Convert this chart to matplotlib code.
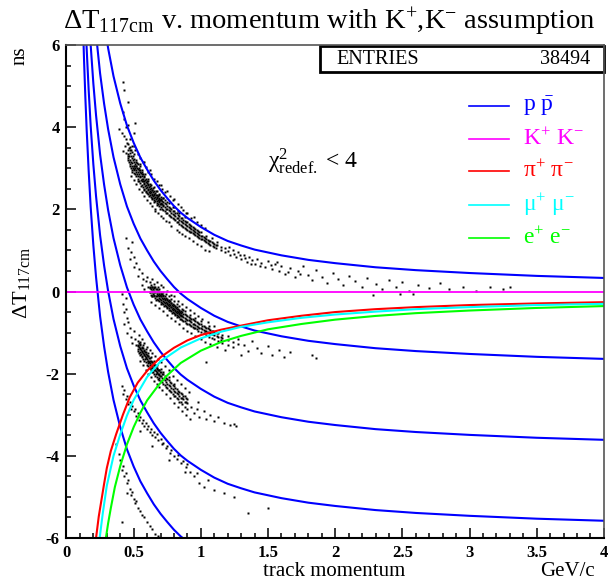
import numpy as np
import matplotlib.pyplot as plt
from matplotlib.patches import Rectangle
from matplotlib.ticker import MultipleLocator

plt.rcParams["font.family"] = "Liberation Serif"
plt.rcParams["mathtext.fontset"] = "custom"
plt.rcParams["mathtext.rm"] = "Liberation Serif"
plt.rcParams["mathtext.it"] = "Liberation Serif:italic"
plt.rcParams["mathtext.bf"] = "Liberation Serif:bold"
plt.rcParams["axes.unicode_minus"] = False

# proton curve (blue, top one)
p_mom = [0.11, 0.12, 0.13, 0.14, 0.15, 0.165, 0.18, 0.2, 0.22, 0.25, 0.28, 0.31,
         0.35, 0.4, 0.45, 0.5, 0.55, 0.6, 0.65, 0.7, 0.75, 0.8, 0.85, 0.9, 1.0,
         1.1, 1.2, 1.3, 1.4, 1.6, 1.8, 2.0, 2.3, 2.6, 3.0, 3.5, 4.0]
dt_proton = [15.91, 14.67, 13.58, 12.64, 11.83, 10.82, 9.94, 9.00, 8.23, 7.28,
             6.54, 5.92, 5.24, 4.58, 4.04, 3.62, 3.26, 2.97, 2.70, 2.47, 2.27,
             2.08, 1.92, 1.79, 1.57, 1.38, 1.23, 1.12, 1.02, 0.88, 0.77, 0.69,
             0.59, 0.52, 0.45, 0.38, 0.33]
# the other blue curves: same shape, one bunch lower each
bunch_shift = [0.0, -1.97, -3.94, -5.91, -7.88]

pion_p = [0.21, 0.22, 0.24, 0.26, 0.28, 0.30, 0.33, 0.37, 0.42, 0.47, 0.53, 0.6,
          0.7, 0.8, 0.9, 1.0, 1.15, 1.3, 1.5, 1.75, 2.0, 2.3, 2.6, 3.0, 3.5, 4.0]
dt_pion = [-6.3, -6.0, -5.48, -5.08, -4.68, -4.30, -3.88, -3.47, -3.00, -2.58,
           -2.22, -1.93, -1.60, -1.37, -1.19, -1.06, -0.93, -0.83, -0.70, -0.59,
           -0.50, -0.43, -0.38, -0.33, -0.29, -0.26]

muon_p = [0.24, 0.25, 0.27, 0.30, 0.35, 0.40, 0.45, 0.50, 0.60, 0.70, 0.85, 1.0,
          1.15, 1.3, 1.5, 1.75, 2.0, 2.3, 2.6, 3.0, 3.5, 4.0]
dt_muon = [-6.2, -5.92, -5.40, -4.73, -4.0, -3.48, -3.02, -2.64, -2.08, -1.70,
           -1.365, -1.14, -0.98, -0.86, -0.75, -0.64, -0.56, -0.49, -0.43, -0.38,
           -0.33, -0.30]

elec_p = [0.28, 0.29, 0.31, 0.33, 0.36, 0.40, 0.45, 0.50, 0.55, 0.60, 0.68, 0.75,
          0.85, 1.0, 1.15, 1.3, 1.5, 1.75, 2.0, 2.3, 2.6, 3.0, 3.5, 4.0]
dt_elec = [-6.30, -6.07, -5.64, -5.27, -4.76, -4.25, -3.72, -3.30, -2.95, -2.65,
           -2.30, -2.04, -1.74, -1.44, -1.23, -1.08, -0.92, -0.79, -0.685, -0.595,
           -0.527, -0.463, -0.40, -0.355]

band_a_head = [(0.422, 5.1), (0.43, 4.9), (0.46, 4.62), (0.422, 4.37), (0.43, 4.2),
               (0.51, 4.1), (0.44, 4.0), (0.50, 3.85), (0.41, 3.85), (0.425, 3.78),
               (0.44, 3.70), (0.45, 3.62), (0.435, 3.55), (0.47, 3.52), (0.42, 3.42),
               (0.445, 3.38), (0.46, 3.30), (0.48, 3.45), (0.50, 3.55), (0.505, 3.05),
               (0.39, 3.95), (0.455, 4.05)]
band_a_core = [(0.46, [3.35, 3.6, 3.2]), (0.47, [3.1, 3.45]), (0.48, [3.3, 3.0, 3.15]),
               (0.49, [3.05, 3.25, 2.9]), (0.50, [3.15, 2.95, 3.35, 3.05]),
               (0.51, [2.85, 3.1, 3.0]), (0.52, [2.95, 3.2, 2.8, 3.05]),
               (0.53, [2.9, 2.75, 3.1]), (0.54, [2.85, 3.0, 2.7, 2.95]),
               (0.55, [2.8, 2.95, 2.65, 3.1]), (0.56, [2.75, 2.9, 2.6, 2.85]),
               (0.57, [2.7, 2.55, 2.85, 2.75]), (0.58, [2.65, 2.8, 2.5, 2.7]),
               (0.59, [2.6, 2.75, 2.45]), (0.60, [2.55, 2.7, 2.65, 2.4]),
               (0.61, [2.5, 2.62, 2.38, 2.7]), (0.62, [2.45, 2.58, 2.35]),
               (0.63, [2.42, 2.52, 2.3, 2.6]), (0.64, [2.38, 2.48, 2.27]),
               (0.65, [2.35, 2.45, 2.22, 2.55]), (0.66, [2.3, 2.4, 2.2]),
               (0.67, [2.27, 2.36, 2.15, 2.45]), (0.68, [2.22, 2.33, 2.12]),
               (0.69, [2.2, 2.28, 2.08, 2.38]), (0.70, [2.15, 2.25, 2.05]),
               (0.72, [2.1, 2.18, 1.98, 2.28]), (0.74, [2.02, 2.12, 1.92]),
               (0.76, [1.98, 2.06, 1.87, 2.15]), (0.78, [1.92, 2.0, 1.82]),
               (0.80, [1.86, 1.95, 1.76, 2.05]), (0.82, [1.8, 1.9, 1.7]),
               (0.84, [1.75, 1.84, 1.65, 1.92]), (0.86, [1.7, 1.78, 1.6]),
               (0.88, [1.64, 1.72, 1.55, 1.82]), (0.90, [1.6, 1.68, 1.5]),
               (0.92, [1.55, 1.62, 1.46]), (0.94, [1.5, 1.58, 1.42]),
               (0.96, [1.45, 1.53, 1.38]), (0.98, [1.4, 1.48, 1.33]),
               (1.00, [1.36, 1.44, 1.28]), (1.02, [1.32, 1.25]),
               (1.04, [1.28, 1.36, 1.2]), (1.06, [1.24, 1.15]), (1.08, [1.2, 1.3]),
               (1.10, [1.16, 1.08]), (1.12, [1.12, 1.2]), (1.15, [1.08, 1.0]),
               (1.18, [1.05, 0.95]), (0.62, [2.95]), (0.70, [2.6]), (0.75, [2.45]),
               (0.58, [3.15]), (0.80, [2.25]), (0.90, [1.9]), (0.95, [1.82]),
               (0.66, [1.95]), (0.74, [1.72]), (0.86, [1.4]),
               (0.455, [3.45, 3.25]), (0.465, [3.5, 3.15, 3.3]),
               (0.475, [3.2, 3.38, 3.05]), (0.485, [3.12, 3.4, 2.95]),
               (0.495, [3.0, 3.2, 3.3]), (0.505, [2.98, 3.22, 2.88]),
               (0.515, [3.05, 2.92, 3.15]), (0.525, [2.85, 3.0, 3.12]),
               (0.535, [2.8, 2.98, 2.68]), (0.545, [2.9, 2.78, 3.05]),
               (0.555, [2.72, 2.88, 2.58]), (0.565, [2.68, 2.82, 2.95]),
               (0.575, [2.62, 2.78, 2.48]), (0.585, [2.58, 2.72, 2.85]),
               (0.595, [2.52, 2.66, 2.42]), (0.605, [2.48, 2.6, 2.75]),
               (0.615, [2.42, 2.55, 2.32]), (0.625, [2.4, 2.5, 2.62]),
               (0.635, [2.35, 2.46, 2.25]), (0.645, [2.32, 2.42, 2.52]),
               (0.655, [2.28, 2.38, 2.18]), (0.665, [2.25, 2.34, 2.45]),
               (0.675, [2.2, 2.3, 2.1]), (0.685, [2.18, 2.26, 2.36]),
               (0.695, [2.12, 2.22, 2.02]), (0.705, [2.13, 2.22, 2.3]),
               (0.71, [2.12, 2.2, 2.02]), (0.715, [2.08, 2.28]),
               (0.73, [2.05, 2.15, 1.95, 2.22]), (0.75, [2.0, 2.08, 1.9, 2.18]),
               (0.77, [1.95, 2.03, 1.85]), (0.79, [1.88, 1.97, 1.78, 2.06]),
               (0.81, [1.83, 1.92, 1.73]), (0.83, [1.78, 1.86, 1.68, 1.95]),
               (0.85, [1.72, 1.8, 1.62]), (0.87, [1.67, 1.75, 1.58]),
               (0.89, [1.62, 1.7, 1.52]), (0.91, [1.58, 1.65, 1.48]),
               (0.93, [1.52, 1.6, 1.44]), (0.95, [1.48, 1.55, 1.4]),
               (0.97, [1.42, 1.5, 1.35]), (0.99, [1.38, 1.46, 1.3]),
               (1.01, [1.34, 1.27]), (1.03, [1.3, 1.22]), (1.05, [1.26, 1.18]),
               (1.07, [1.22, 1.13]), (1.09, [1.18, 1.1]), (1.11, [1.14, 1.05])]
band_a_halo = [(0.47, 3.7), (0.49, 3.55), (0.51, 3.45), (0.53, 3.35), (0.55, 3.25),
               (0.57, 3.15), (0.59, 3.02), (0.61, 2.92), (0.63, 2.85), (0.65, 2.75),
               (0.67, 2.68), (0.69, 2.6), (0.71, 2.5), (0.73, 2.42), (0.77, 2.32),
               (0.79, 2.22), (0.83, 2.12), (0.85, 2.05), (0.87, 1.98), (0.89, 1.92),
               (0.93, 1.8), (0.97, 1.7), (1.0, 1.62), (1.03, 1.55),
               (0.48, 2.8), (0.5, 2.72), (0.52, 2.62), (0.54, 2.5), (0.56, 2.42),
               (0.58, 2.32), (0.6, 2.22), (0.62, 2.15), (0.64, 2.08), (0.66, 2.0),
               (0.68, 1.9), (0.7, 1.85), (0.72, 1.78), (0.76, 1.68), (0.78, 1.6),
               (0.82, 1.5), (0.84, 1.45), (0.88, 1.35), (0.91, 1.3), (0.94, 1.22),
               (0.97, 1.15), (1.0, 1.1), (1.03, 1.02), (1.06, 0.98)]
band_a_tail = [(1.2, 0.98), (1.22, 0.9), (1.24, 1.02), (1.26, 0.85), (1.28, 0.95),
               (1.3, 0.8), (1.32, 0.9), (1.34, 0.72), (1.36, 0.84), (1.38, 0.76),
               (1.4, 0.66), (1.42, 0.8), (1.45, 0.7), (1.48, 0.6), (1.5, 0.75),
               (1.53, 0.55), (1.55, 0.68), (1.58, 0.5), (1.6, 0.62), (1.63, 0.42),
               (1.66, 0.58), (1.7, 0.35), (1.72, 0.5), (1.76, 0.62), (1.8, 0.4),
               (1.83, 0.28), (1.86, 0.52), (1.9, 0.35), (1.94, 0.2), (1.98, 0.45),
               (2.02, 0.3), (2.06, 0.15), (2.1, 0.38), (2.15, 0.25), (2.2, 0.1),
               (2.24, 0.32), (2.3, 0.18), (2.35, 0.05), (2.4, 0.28), (2.45, 0.12),
               (2.5, 0.22), (2.55, 0.02), (2.62, 0.15), (2.7, 0.08), (2.78, 0.2),
               (2.85, 0.05), (2.95, 0.12), (3.05, 0.02), (3.15, 0.1), (3.25, 0.05),
               (3.3, 0.12), (2.28, -0.08), (2.48, -0.07), (2.58, -0.06),
               (1.21, 1.08), (1.25, 0.92), (1.29, 0.88), (1.33, 0.82), (1.37, 0.68),
               (1.44, 0.62), (1.52, 0.64), (1.57, 0.72), (1.65, 0.48), (1.74, 0.42)]
band_b_head = [(0.46, 1.05), (0.48, 0.95), (0.47, 0.8), (0.5, 0.85), (0.52, 0.7),
               (0.5, 0.6), (0.54, 0.55), (0.56, 0.45), (0.53, 0.38), (0.57, 0.3),
               (0.59, 0.25), (0.56, 0.15), (0.6, 0.35), (0.61, 0.12), (0.49, 1.2),
               (0.44, 1.3), (0.58, 0.05)]
band_b_core = [(0.62, [0.12, 0.0, 0.22]), (0.63, [0.05, -0.08, 0.15]),
               (0.64, [0.02, 0.12, -0.1]), (0.65, [-0.02, 0.08, -0.12, 0.18]),
               (0.66, [0.0, -0.15, 0.1]), (0.67, [-0.05, 0.05, -0.18]),
               (0.68, [-0.08, 0.02, -0.2, 0.1]), (0.69, [-0.1, -0.02, -0.22]),
               (0.70, [-0.12, -0.25, 0.0, -0.05]), (0.71, [-0.15, -0.05, -0.28]),
               (0.72, [-0.18, -0.08, -0.3, -0.02]), (0.73, [-0.2, -0.1, -0.32]),
               (0.74, [-0.25, -0.15, -0.35, -0.05]), (0.75, [-0.27, -0.18, -0.38]),
               (0.76, [-0.3, -0.2, -0.4, -0.12]), (0.77, [-0.32, -0.22, -0.45]),
               (0.78, [-0.37, -0.28, -0.47, -0.18]), (0.79, [-0.4, -0.3, -0.5]),
               (0.80, [-0.42, -0.32, -0.52, -0.22]), (0.81, [-0.45, -0.35, -0.55]),
               (0.82, [-0.48, -0.38, -0.58, -0.3]), (0.83, [-0.5, -0.42, -0.6]),
               (0.84, [-0.53, -0.45, -0.63, -0.35]), (0.85, [-0.57, -0.48, -0.66]),
               (0.86, [-0.6, -0.5, -0.7, -0.42]), (0.88, [-0.64, -0.55, -0.73, -0.48]),
               (0.90, [-0.7, -0.6, -0.78]), (0.92, [-0.73, -0.64, -0.82, -0.57]),
               (0.94, [-0.78, -0.68, -0.86]), (0.96, [-0.82, -0.72, -0.9, -0.65]),
               (0.98, [-0.86, -0.76, -0.95]), (1.00, [-0.9, -0.8, -0.98, -0.72]),
               (1.02, [-0.94, -0.85, -1.02]), (1.04, [-0.97, -0.88, -1.06]),
               (1.06, [-1.0, -0.92, -1.1, -0.85]), (1.08, [-1.03, -0.95, -1.12]),
               (1.10, [-1.05, -0.98, -1.15]), (1.13, [-1.1, -1.0, -1.2]),
               (1.16, [-1.12, -1.05, -1.25]), (1.2, [-1.18, -1.08, -1.3]),
               (1.24, [-1.22, -1.35]), (1.28, [-1.28, -1.15]),
               (0.625, [0.08, -0.02]), (0.635, [0.0, 0.1, -0.12]),
               (0.645, [-0.05, 0.05]), (0.655, [-0.08, 0.02, 0.12]),
               (0.665, [-0.1, 0.05, -0.2]), (0.675, [-0.12, -0.02]),
               (0.685, [-0.15, -0.05, 0.05]), (0.695, [-0.18, -0.08]),
               (0.705, [-0.2, -0.1, -0.3]), (0.715, [-0.22, -0.12]),
               (0.725, [-0.25, -0.15, -0.35]), (0.735, [-0.28, -0.18]),
               (0.745, [-0.3, -0.2, -0.4]), (0.755, [-0.32, -0.22]),
               (0.765, [-0.35, -0.25, -0.45]), (0.775, [-0.38, -0.28]),
               (0.785, [-0.42, -0.32, -0.52]), (0.795, [-0.45, -0.35]),
               (0.805, [-0.48, -0.38, -0.58]), (0.815, [-0.5, -0.4]),
               (0.825, [-0.52, -0.43, -0.62]), (0.835, [-0.55, -0.47]),
               (0.845, [-0.58, -0.5, -0.67]), (0.855, [-0.6, -0.52]),
               (0.87, [-0.62, -0.55, -0.72, -0.46]), (0.89, [-0.67, -0.58, -0.76]),
               (0.91, [-0.7, -0.62, -0.8]), (0.93, [-0.75, -0.66, -0.84]),
               (0.95, [-0.8, -0.7, -0.88]), (0.97, [-0.84, -0.74, -0.92]),
               (0.99, [-0.88, -0.78]), (1.01, [-0.92, -0.83]), (1.03, [-0.95, -0.87]),
               (1.05, [-0.98, -0.9]), (1.07, [-1.02, -0.94]), (1.09, [-1.04, -0.97]),
               (1.12, [-1.08, -1.0]), (1.15, [-1.1, -1.18])]
band_b_halo = [(0.64, 0.3), (0.67, 0.22), (0.7, 0.15), (0.72, 0.1), (0.75, 0.02),
               (0.78, -0.08), (0.8, -0.12), (0.83, -0.22), (0.86, -0.3), (0.89, -0.38),
               (0.92, -0.45), (0.95, -0.52), (0.98, -0.6), (1.01, -0.68), (1.05, -0.75),
               (1.1, -0.85), (0.63, -0.25), (0.66, -0.32), (0.69, -0.4), (0.72, -0.48),
               (0.75, -0.56), (0.78, -0.65), (0.81, -0.72), (0.84, -0.8), (0.87, -0.88),
               (0.9, -0.95), (0.93, -1.0), (0.96, -1.08), (1.0, -1.15), (1.03, -1.22),
               (1.07, -1.28), (1.12, -1.35), (1.18, -1.42)]
band_b_tail = [(1.32, -1.3), (1.35, -1.45), (1.38, -1.2), (1.42, -1.38), (1.45, -1.5),
               (1.5, -1.32), (1.53, -1.55), (1.58, -1.42), (1.62, -1.6), (1.66, -1.48),
               (1.83, -1.55), (1.86, -1.62), (1.04, -1.72), (1.3, -1.55)]
band_c_head = [(0.42, -0.3), (0.43, -0.5), (0.44, -0.42), (0.45, -0.65), (0.43, -0.8),
               (0.46, -0.75), (0.47, -0.9), (0.45, -1.0), (0.48, -1.1), (0.5, -0.95),
               (0.49, -1.25), (0.51, -1.15), (0.52, -1.3), (0.44, -0.15), (0.41, -0.05)]
band_c_core = [(0.53, [-1.3, -1.2, -1.45]), (0.54, [-1.35, -1.25, -1.5]),
               (0.55, [-1.4, -1.3, -1.55, -1.22]), (0.56, [-1.45, -1.35, -1.6]),
               (0.57, [-1.5, -1.38, -1.65, -1.3]), (0.58, [-1.55, -1.45, -1.68]),
               (0.59, [-1.6, -1.48, -1.72, -1.4]), (0.60, [-1.65, -1.55, -1.78]),
               (0.61, [-1.7, -1.58, -1.82, -1.5]), (0.62, [-1.75, -1.62, -1.85]),
               (0.63, [-1.8, -1.68, -1.9, -1.6]), (0.64, [-1.85, -1.72, -1.95]),
               (0.65, [-1.88, -1.78, -2.0, -1.7]), (0.66, [-1.92, -1.8, -2.05]),
               (0.67, [-1.95, -1.85, -2.08, -1.78]), (0.68, [-2.0, -1.9, -2.12]),
               (0.69, [-2.03, -1.92, -2.15]), (0.70, [-2.06, -1.95, -2.18, -1.88]),
               (0.72, [-2.12, -2.02, -2.25, -1.95]), (0.74, [-2.2, -2.1, -2.32]),
               (0.76, [-2.28, -2.15, -2.4, -2.08]), (0.78, [-2.35, -2.22, -2.45]),
               (0.80, [-2.42, -2.3, -2.55, -2.25]), (0.82, [-2.48, -2.38, -2.6]),
               (0.84, [-2.55, -2.45, -2.68]), (0.86, [-2.6, -2.5, -2.75]),
               (0.88, [-2.68, -2.55, -2.8]), (0.90, [-2.72, -2.62, -2.85]),
               (0.535, [-1.32, -1.4]), (0.545, [-1.38, -1.28, -1.48]),
               (0.555, [-1.42, -1.52]), (0.565, [-1.48, -1.38, -1.58]),
               (0.575, [-1.52, -1.42]), (0.585, [-1.58, -1.48, -1.65]),
               (0.595, [-1.62, -1.52]), (0.605, [-1.68, -1.58, -1.75]),
               (0.615, [-1.72, -1.62]), (0.625, [-1.78, -1.68, -1.85]),
               (0.635, [-1.82, -1.72]), (0.645, [-1.86, -1.76, -1.95]),
               (0.655, [-1.9, -1.8]), (0.665, [-1.93, -1.84, -2.02]),
               (0.675, [-1.98, -1.88]), (0.685, [-2.02, -1.92, -2.1]),
               (0.695, [-2.05, -1.96]), (0.71, [-2.1, -2.0, -2.2]),
               (0.73, [-2.15, -2.05, -2.28]), (0.75, [-2.24, -2.12, -2.35]),
               (0.77, [-2.3, -2.2, -2.42]), (0.79, [-2.38, -2.28, -2.5]),
               (0.81, [-2.45, -2.35, -2.55]), (0.83, [-2.5, -2.42, -2.62]),
               (0.85, [-2.58, -2.48, -2.7]), (0.87, [-2.62, -2.55]),
               (0.89, [-2.7, -2.6])]
band_c_halo = [(0.54, -1.05), (0.56, -1.15), (0.58, -1.25), (0.6, -1.35), (0.62, -1.42),
               (0.64, -1.5), (0.66, -1.58), (0.68, -1.65), (0.7, -1.72), (0.73, -1.82),
               (0.76, -1.92), (0.79, -2.05), (0.82, -2.15), (0.85, -2.25), (0.88, -2.35),
               (0.91, -2.45), (0.55, -1.7), (0.57, -1.8), (0.59, -1.9), (0.61, -2.0),
               (0.63, -2.08), (0.65, -2.18), (0.67, -2.25), (0.69, -2.32), (0.71, -2.4),
               (0.74, -2.5), (0.77, -2.6), (0.8, -2.72), (0.83, -2.82), (0.86, -2.92),
               (0.89, -3.0)]
band_c_tail = [(0.93, -2.8), (0.95, -2.95), (0.97, -2.85), (0.99, -3.05), (1.02, -2.9),
               (1.04, -3.1), (1.07, -3.0), (1.1, -3.15), (1.13, -3.05), (1.17, -3.2),
               (1.22, -3.25), (1.26, -3.28), (1.25, -3.22), (0.92, -3.1), (0.98, -2.7)]
band_d = [(0.41, -2.3), (0.42, -2.5), (0.43, -2.4), (0.44, -2.62), (0.45, -2.55),
          (0.46, -2.75), (0.47, -2.68), (0.48, -2.85), (0.49, -2.78), (0.5, -2.92),
          (0.51, -2.85), (0.52, -3.02), (0.53, -2.95), (0.54, -3.12), (0.55, -3.05),
          (0.56, -3.2), (0.57, -3.12), (0.58, -3.28), (0.59, -3.2), (0.6, -3.35),
          (0.61, -3.28), (0.62, -3.42), (0.63, -3.35), (0.64, -3.5), (0.65, -3.42),
          (0.66, -3.55), (0.67, -3.48), (0.68, -3.62), (0.7, -3.6), (0.71, -3.72),
          (0.72, -3.68), (0.74, -3.8), (0.75, -3.75), (0.77, -3.92), (0.78, -3.85),
          (0.8, -4.0), (0.82, -4.08), (0.83, -3.98), (0.85, -4.18), (0.87, -4.12),
          (0.89, -4.28), (0.9, -4.2), (0.92, -4.4), (0.95, -4.5), (0.97, -4.42),
          (0.99, -4.65), (1.02, -4.75), (1.05, -4.6), (1.1, -4.83), (1.17, -4.9),
          (1.25, -5.0), (1.35, -5.4), (1.5, -5.28), (0.76, -4.1), (0.88, -4.4),
          (0.64, -3.75), (0.55, -3.4)]
band_e = [(0.37, -3.7), (0.39, -3.95), (0.4, -4.1), (0.41, -4.35), (0.42, -4.25),
          (0.43, -4.5), (0.44, -4.42), (0.45, -4.65), (0.46, -4.58), (0.47, -4.8),
          (0.48, -4.95), (0.49, -4.88), (0.5, -5.05), (0.51, -5.15), (0.52, -5.1),
          (0.53, -5.28), (0.55, -5.35), (0.56, -5.45), (0.58, -5.5), (0.6, -5.6),
          (0.62, -5.7), (0.64, -5.78), (0.66, -5.9), (0.68, -5.95), (0.41, -5.6),
          (0.45, -4.9)]

n_entries = 38494
legend_labels = [r"p $\bar{\mathrm{p}}$", r"K$^{+}$ K$^{-}$",
                 r"$\mathrm{\pi}^{+}$ $\mathrm{\pi}^{-}$",
                 r"$\mathrm{\mu}^{+}$ $\mathrm{\mu}^{-}$", r"e$^{+}$ e$^{-}$"]
legend_colors = ["#0000ff", "#ff00ff", "#ff0000", "#00ffff", "#00ff00"]


def flat(core):
    xs, ys = [], []
    for x, col in core:
        for y in col:
            xs.append(x)
            ys.append(y)
    return xs, ys


fig = plt.figure(figsize=(6.1, 5.86), dpi=100)
ax = fig.add_axes([0.109, 0.0819, 0.881, 0.8413])

# scatter of tracks
px, py = [], []
for pts in [band_a_head, band_a_halo, band_a_tail, band_b_head, band_b_halo,
            band_b_tail, band_c_head, band_c_halo, band_c_tail, band_d, band_e]:
    px += [p[0] for p in pts]
    py += [p[1] for p in pts]
for core in [band_a_core, band_b_core, band_c_core]:
    xs, ys = flat(core)
    px += xs
    py += ys
ax.plot(px, py, ls="", marker="s", ms=1.8, mec="none", mfc="black")

# expectation curves
for s in bunch_shift:
    ax.plot(p_mom, np.array(dt_proton) + s, color=legend_colors[0], lw=1.5)
ax.axhline(0, color=legend_colors[1], lw=1.3)
ax.plot(pion_p, dt_pion, color=legend_colors[2], lw=1.5)
ax.plot(muon_p, dt_muon, color=legend_colors[3], lw=1.5)
ax.plot(elec_p, dt_elec, color=legend_colors[4], lw=1.5)

ax.set_xlim(0, 4)
ax.set_ylim(-6, 6)
ax.set_xticks(np.arange(0, 4.01, 0.5))
ax.set_xticklabels(["0", "0.5", "1", "1.5", "2", "2.5", "3", "3.5", "4"])
ax.set_yticks([-6, -4, -2, 0, 2, 4, 6])
ax.set_yticklabels(["-6", "-4", "-2", "0", "2", "4", "6"])
ax.xaxis.set_minor_locator(MultipleLocator(0.1))
ax.yaxis.set_minor_locator(MultipleLocator(0.5))
ax.tick_params(which="both", direction="in", width=1.1, labelsize=12, pad=5)
ax.tick_params(which="major", length=7)
ax.tick_params(which="minor", length=3.5)
for lab in ax.get_xticklabels() + ax.get_yticklabels():
    lab.set_fontweight("bold")
for side in ["left", "bottom"]:
    ax.spines[side].set_linewidth(1.5)
for side in ["top", "right"]:
    ax.spines[side].set_linewidth(1.2)
    ax.spines[side].set_color("#555555")

# legend drawn by hand (no frame)
leg_y = [0.876, 0.809, 0.744, 0.675, 0.609]
for lab, col, y in zip(legend_labels, legend_colors, leg_y):
    ax.plot([0.749, 0.823], [y, y], color=col, lw=1.2, transform=ax.transAxes)
    ax.text(0.849, y, lab, color=col, fontsize=17, va="center", ha="left",
            transform=ax.transAxes)

ax.text(0.375, 0.751, r"$\mathrm{\chi}^{2}_{\mathrm{redef.}}$ < 4", fontsize=17,
        ha="left", va="baseline", transform=ax.transAxes)

# stats box
ax.add_patch(Rectangle((0.4716, 0.945), 0.5284, 0.053, transform=ax.transAxes,
                       fill=False, lw=2, ec="black", clip_on=False))
ax.text(0.503, 0.9716, "ENTRIES", fontsize=14.5, va="center", ha="left",
        transform=ax.transAxes)
ax.text(0.974, 0.9716, str(n_entries), fontsize=14.5, va="center", ha="right",
        transform=ax.transAxes)

fig.text(0.539, 0.962, "\u0394T$_{\\mathrm{117cm}}$ v. momentum with K$^{+}$,K$^{-}$ assumption",
         fontsize=20.5, ha="center", va="center")
fig.text(0.036, 0.517, "\u0394T$_{\\mathrm{117cm}}$", fontsize=16, rotation=90,
         ha="center", va="center")
fig.text(0.033, 0.905, "ns", fontsize=15, rotation=90, ha="center", va="center")
fig.text(0.548, 0.024, "track momentum", fontsize=15, ha="center", va="center")
fig.text(0.93, 0.024, "GeV/c", fontsize=15, ha="center", va="center")

fig.savefig("out.png", dpi=100)
